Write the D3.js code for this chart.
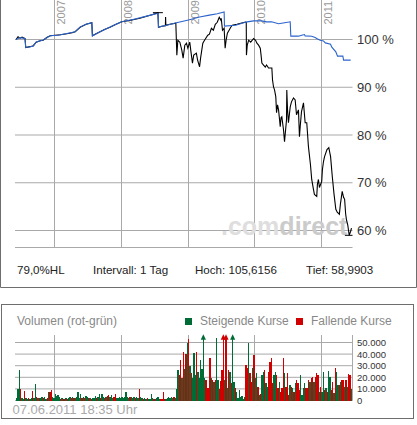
<!DOCTYPE html>
<html><head><meta charset="utf-8">
<script src="https://cdn.jsdelivr.net/npm/d3@7"></script>
<style>html,body{margin:0;padding:0;background:#fff;}svg{display:block;font-family:"Liberation Sans",Arial,sans-serif;}</style>
</head><body>
<svg id="c" width="417" height="425"></svg>
<script>
// ---------- DATA ----------
const yearTicks = [2007, 2008, 2009, 2010, 2011];
const pctTicks = [60, 70, 80, 90, 100];
const volTicksK = [0, 10, 20, 30, 40, 50];
const periodStart = 2006.43, periodEnd = 2011.43;

const blackDates = [2006.430,2006.460,2006.490,2006.519,2006.564,2006.574,2006.638,2006.685,2006.729,2006.787,2006.832,2006.891,2006.936,2007.010,2007.085,2007.185,2007.263,2007.308,2007.382,2007.472,2007.557,2007.566,2007.606,2007.680,2007.754,2007.829,2007.918,2008.003,2008.097,2008.171,2008.275,2008.375,2008.454,2008.543,2008.552,2008.603,2008.655,2008.658,2008.662,2008.722,2008.811,2008.818,2008.826,2008.841,2008.871,2008.900,2008.920,2008.945,2008.970,2008.990,2009.019,2009.034,2009.060,2009.079,2009.119,2009.138,2009.168,2009.183,2009.217,2009.243,2009.292,2009.317,2009.347,2009.377,2009.406,2009.436,2009.466,2009.491,2009.496,2009.515,2009.540,2009.555,2009.570,2009.589,2009.615,2009.640,2009.664,2009.734,2009.793,2009.863,2009.875,2009.878,2009.890,2009.912,2009.942,2009.987,2010.016,2010.036,2010.061,2010.086,2010.098,2010.110,2010.135,2010.161,2010.180,2010.210,2010.259,2010.269,2010.284,2010.299,2010.318,2010.329,2010.344,2010.359,2010.374,2010.384,2010.396,2010.408,2010.433,2010.448,2010.478,2010.482,2010.493,2010.507,2010.533,2010.552,2010.582,2010.607,2010.627,2010.656,2010.671,2010.682,2010.701,2010.731,2010.756,2010.780,2010.805,2010.835,2010.854,2010.880,2010.894,2010.929,2010.939,2010.954,2010.969,2011.003,2011.013,2011.028,2011.043,2011.077,2011.103,2011.128,2011.152,2011.177,2011.202,2011.222,2011.252,2011.266,2011.292,2011.311,2011.326,2011.341,2011.351,2011.371,2011.390,2011.411,2011.423];
const blackValues = [100.0,100.58,100.27,100.48,100.17,98.33,98.5,98.71,99.44,99.75,99.85,100.48,100.79,100.9,101.0,101.21,101.42,101.63,102.56,103.19,103.5,100.79,101.1,101.63,102.15,102.56,103.19,103.71,103.92,104.13,104.44,104.85,105.17,105.6,102.56,102.77,102.88,104.7,102.98,103.19,103.4,100.27,96.73,99.85,99.44,97.77,96.1,98.81,99.23,98.19,99.44,97.77,95.06,96.73,97.15,95.69,94.29,96.1,99.23,99.85,100.9,101.1,102.35,101.94,103.19,103.6,104.65,104.02,104.44,101.94,102.35,98.19,99.85,101.31,101.94,102.56,102.98,103.19,103.4,103.67,103.6,96.73,98.81,99.85,99.44,100.21,99.85,99.23,98.81,98.19,96.73,95.06,94.65,94.23,94.65,94.02,94.02,91.52,90.06,89.44,87.98,84.65,86.31,85.27,83.19,81.73,83.6,83.81,81.1,78.6,83.19,89.44,85.27,82.56,85.9,86.94,87.77,87.35,84.23,85.27,79.65,81.73,84.85,86.73,82.56,82.56,77.56,73.81,70.69,68.6,67.56,67.15,69.65,70.69,69.02,70.27,72.77,74.44,75.48,76.94,77.35,75.48,71.31,67.56,64.44,63.82,63.4,65.48,68.19,66.94,66.52,63.4,62.35,61.1,59.0,59.85,60.48];

const blueDates = [2006.430,2006.490,2006.564,2006.574,2006.685,2006.729,2006.832,2006.936,2007.055,2007.185,2007.308,2007.382,2007.472,2007.557,2007.566,2007.680,2007.829,2008.003,2008.171,2008.375,2008.548,2008.552,2008.673,2008.821,2009.000,2009.168,2009.317,2009.436,2009.540,2009.545,2009.714,2009.887,2009.987,2010.106,2010.180,2010.255,2010.359,2010.449,2010.533,2010.542,2010.656,2010.705,2010.746,2010.756,2010.854,2010.905,2010.929,2010.979,2011.028,2011.054,2011.128,2011.143,2011.202,2011.211,2011.226,2011.301,2011.311,2011.411];
const blueValues = [100.0,100.4,100.2,98.33,98.6,99.5,99.9,100.8,100.9,101.25,101.6,102.6,103.2,103.5,100.75,101.6,102.6,103.7,104.2,104.9,105.5,102.6,103.0,103.5,104.1,104.7,105.1,105.4,105.75,102.8,103.0,103.7,103.9,103.9,103.7,103.7,103.3,103.5,103.7,100.7,100.7,100.9,101.04,100.75,100.69,100.42,100.21,99.85,99.71,99.29,99.02,98.46,97.42,97.08,96.52,96.52,95.69,95.69];

const highPoint = {date: 2008.543, value: 105.6156};
const lowPoint = {date: 2011.400, value: 58.9903};

// weekly volume in thousands, rising (1) / falling (0)
const volumesK = [2,10,26,10,2,1.5,8,2,1.5,2, 1.5,2,8,2,14,3,2,2.5,2,3, 2,3,1.5,2,7,7.5,8.8,3,2.5,6, 4,5,3,1.5,2,1,1.5,2,1.5,2.5, 3,2,3,2.5,2,3,7,2.5,5.5,2, 3,2,4,3,2,2,1.5,2.5,2,4, 2,3,6,2.5,6,3,2,3,4,5, 3,4.5,2.5,3,5.5,2,2,3,2.5,3, 2,3,7,3,2.5,3,3,2,3,2, 3,2.5,10,3,2,1.5,2,1.5,2,1, 1.5,5.5,2,1.5,1,2,3,1.5,1,1.5, 7,1.5,1,2,3,2.5,3,2,3,
  2,9.5,26,22,35,19,42,27,40,49.6, 52.8,30,24,19,41,22,42,25,19,35, 27,65,19,18,10.5,10.5,37,19.5,18,16, 18,54,18,10,17,26,65,18,65,10.5, 26,25,15,65,16,10.5,7.5,2,9,3, 4,1,3,31,28,50,23.5,16,28,39, 19,23.5,12,
  4.6,6,22,25,26.4,14.8,11.9,25,33.6,36.5, 14.8,22,25,22,10.4,15.6,7.5,10.4,37,23.5, 11.9,24,4.6,13.4,11.9,10.4,7.5,14.8,17.7,14.8, 9,22,4.6,10.4,14.8,10.4,11,17.7,16.2,19.1, 20.6,16.2,20.6,23.5,22,7.5,11.9,7.5,25,9, 10.4,7.5,25.5,20.6,9,16.2,6.1,27.8,25,13.4, 13.4,16.2,17.7,17.7,11.9,17.7,11.9,22.9,21.7,10];
const volRising = [1,1,1,0,1,1,0,1,1,0, 1,1,0,1,1,0,1,0,1,1, 0,1,1,0,1,0,0,1,1,1, 1,1,1,0,1,0,0,1,0,1, 1,0,1,0,1,1,1,1,1,0, 1,0,1,1,0,1,0,1,1,1, 0,1,1,0,1,1,0,1,0,0, 1,1,1,0,0,1,1,1,1,1, 1,1,1,1,1,0,1,1,1,0, 1,1,0,1,1,0,1,1,0,1, 1,1,1,0,1,1,1,1,0,0, 0,0,1,1,1,1,1,1,0,
  1,1,1,0,0,1,0,1,0,1, 0,1,0,1,1,1,0,1,1,1, 1,1,1,0,0,0,0,1,0,1, 0,1,1,0,0,0,0,1,0,1, 0,1,0,1,1,0,1,1,1,1, 1,1,1,0,0,1,0,0,1,0, 1,1,0,
  1,0,1,1,0,1,1,0,0,0, 0,1,1,0,0,1,0,0,0,1, 0,0,0,1,0,1,0,1,0,0, 0,1,1,1,1,0,0,0,1,0, 0,1,0,0,0,1,0,1,1,0, 1,0,1,1,0,0,1,0,1,1, 0,1,0,0,1,0,1,0,0,1];

const infoLabels = ["79,0%HL", "Intervall: 1 Tag", "Hoch: 105,6156", "Tief: 58,9903"];
const volTitle = "Volumen (rot-grün)";
const legendLabels = ["Steigende Kurse", "Fallende Kurse"];
const stampText = "07.06.2011 18:35 Uhr";

// ---------- DRAW ----------
const svg = d3.select("#c");
const GRID = "#a9a9a9", FRAME = "#6e6e6e";
const GREEN = "#006b35", RED = "#d00000", BLUE = "#2b63cc";

const x = d3.scaleLinear()
  .domain([periodStart, 2007, 2008, 2009, 2010, 2011, periodEnd])
  .range([16, 54.5, 121.5, 188.5, 254.5, 321.5, 352]);
const y = d3.scaleLinear().domain([60, 100]).range([230.5, 39.5]);
const plotL = 15, plotR = 352.5, plotB = 247.5;

// panel frames
svg.append("path").attr("d", "M0.5,0V287.5H416.5V0").attr("fill", "none").attr("stroke", FRAME);
svg.append("rect").attr("x", 1.5).attr("y", 304.5).attr("width", 412).attr("height", 114)
  .attr("fill", "none").attr("stroke", FRAME);

// price grid
const g = svg.append("g");
g.selectAll(".hg").data(pctTicks).join("line")
  .attr("x1", plotL).attr("x2", plotR).attr("y1", d => y(d)).attr("y2", d => y(d))
  .attr("stroke", GRID);
g.append("line").attr("x1", plotL).attr("x2", plotR).attr("y1", plotB).attr("y2", plotB).attr("stroke", GRID);
g.selectAll(".vg").data(yearTicks).join("line")
  .attr("x1", d => x(d)).attr("x2", d => x(d)).attr("y1", 0).attr("y2", plotB)
  .attr("stroke", GRID);

// year labels (rotated)
g.selectAll(".yl").data(yearTicks).join("text")
  .attr("transform", d => `translate(${x(d) + 10.5},24.5) rotate(-90)`)
  .attr("font-size", 11).attr("fill", "#999").text(d => d);

// pct labels
g.selectAll(".pl").data(pctTicks).join("text")
  .attr("x", 357).attr("y", d => y(d) + 4.6)
  .attr("font-size", 13).attr("fill", "#333").text(d => `${d} %`);

// watermark
const wm = svg.append("text").attr("x", 221).attr("y", 235)
  .attr("font-size", 25).attr("font-weight", "bold");
wm.append("tspan").attr("fill", "#dedede").text(".com");
wm.append("tspan").attr("fill", "#cbcbcb").text("direct");

// lines
svg.append("clipPath").attr("id", "pc").append("rect")
  .attr("x", plotL).attr("y", 0).attr("width", plotR - plotL).attr("height", plotB);
const lines = svg.append("g").attr("clip-path", "url(#pc)");
const line = d3.line().x(d => x(d[0])).y(d => y(d[1]));
lines.append("path").datum(d3.zip(blackDates, blackValues))
  .attr("d", line).attr("fill", "none").attr("stroke", "#000").attr("stroke-width", 1.1);
lines.append("path").datum(d3.zip(blueDates, blueValues))
  .attr("d", line).attr("fill", "none").attr("stroke", BLUE).attr("stroke-width", 1.1);
[highPoint, lowPoint].forEach(p => {
  lines.append("line").attr("x1", x(p.date) - 5).attr("x2", x(p.date) + 5)
    .attr("y1", y(p.value)).attr("y2", y(p.value)).attr("stroke", "#000").attr("stroke-width", 1);
});

// info line
const infoX = [17, 93, 195, 306];
svg.selectAll(".info").data(infoLabels).join("text")
  .attr("x", (d, i) => infoX[i]).attr("y", 274)
  .attr("font-size", 11.6).attr("fill", "#222").text(d => d);

// volume panel
svg.append("text").attr("x", 17).attr("y", 325).attr("font-size", 12).attr("fill", "#888").text(volTitle);
const legX = [185, 296];
const legCol = [GREEN, RED];
legendLabels.forEach((t, i) => {
  svg.append("rect").attr("x", legX[i]).attr("y", 318).attr("width", 7).attr("height", 7).attr("fill", legCol[i]);
  svg.append("text").attr("x", legX[i] + 15).attr("y", 325).attr("font-size", 12).attr("fill", "#888").text(t);
});

const vy = d3.scaleLinear().domain([0, 50]).range([400.5, 342.5]);
const clipMax = 55;
const vg = svg.append("g");
vg.selectAll(".vhg").data(volTicksK).join("line")
  .attr("x1", plotL).attr("x2", plotR).attr("y1", d => vy(d)).attr("y2", d => vy(d)).attr("stroke", GRID);
vg.selectAll(".vvg").data(yearTicks).join("line")
  .attr("x1", d => x(d)).attr("x2", d => x(d)).attr("y1", 335).attr("y2", 400.5).attr("stroke", GRID);
vg.append("line").attr("x1", plotR).attr("x2", plotR).attr("y1", 335).attr("y2", 400.5).attr("stroke", GRID);

const band = d3.scaleBand().domain(d3.range(volumesK.length)).range([x(periodStart), x(periodEnd)]).padding(0);
const bars = svg.append("g").attr("shape-rendering", "crispEdges");
bars.selectAll("rect").data(volumesK).join("rect")
  .attr("x", (d, i) => band(i)).attr("width", band.bandwidth())
  .attr("y", d => vy(Math.min(d, clipMax))).attr("height", d => vy(0) - vy(Math.min(d, clipMax)))
  .attr("fill", (d, i) => volRising[i] ? GREEN : RED);
// arrows for clipped bars
const clipped = volumesK.map((v, i) => ({v, i})).filter(o => o.v > clipMax);
svg.selectAll(".arr").data(clipped).join("path")
  .attr("d", o => {
    const cx = band(o.i) + band.bandwidth() / 2, top = vy(clipMax);
    return `M${cx - 2.6},${top + 3}L${cx + 2.6},${top + 3}L${cx},${top - 2.5}Z`;
  })
  .attr("fill", o => volRising[o.i] ? GREEN : RED);

const fmt = d3.formatLocale({decimal: ",", thousands: ".", grouping: [3], currency: ["", "€"]}).format(",");
vg.selectAll(".vl").data(volTicksK).join("text")
  .attr("x", 357).attr("y", d => vy(d) + 3.4)
  .attr("font-size", 9.5).attr("fill", "#333").text(d => fmt(d * 1000));

svg.append("text").attr("x", 12.5).attr("y", 413.5).attr("font-size", 13).attr("fill", "#aaa").text(stampText);
</script>
</body></html>
